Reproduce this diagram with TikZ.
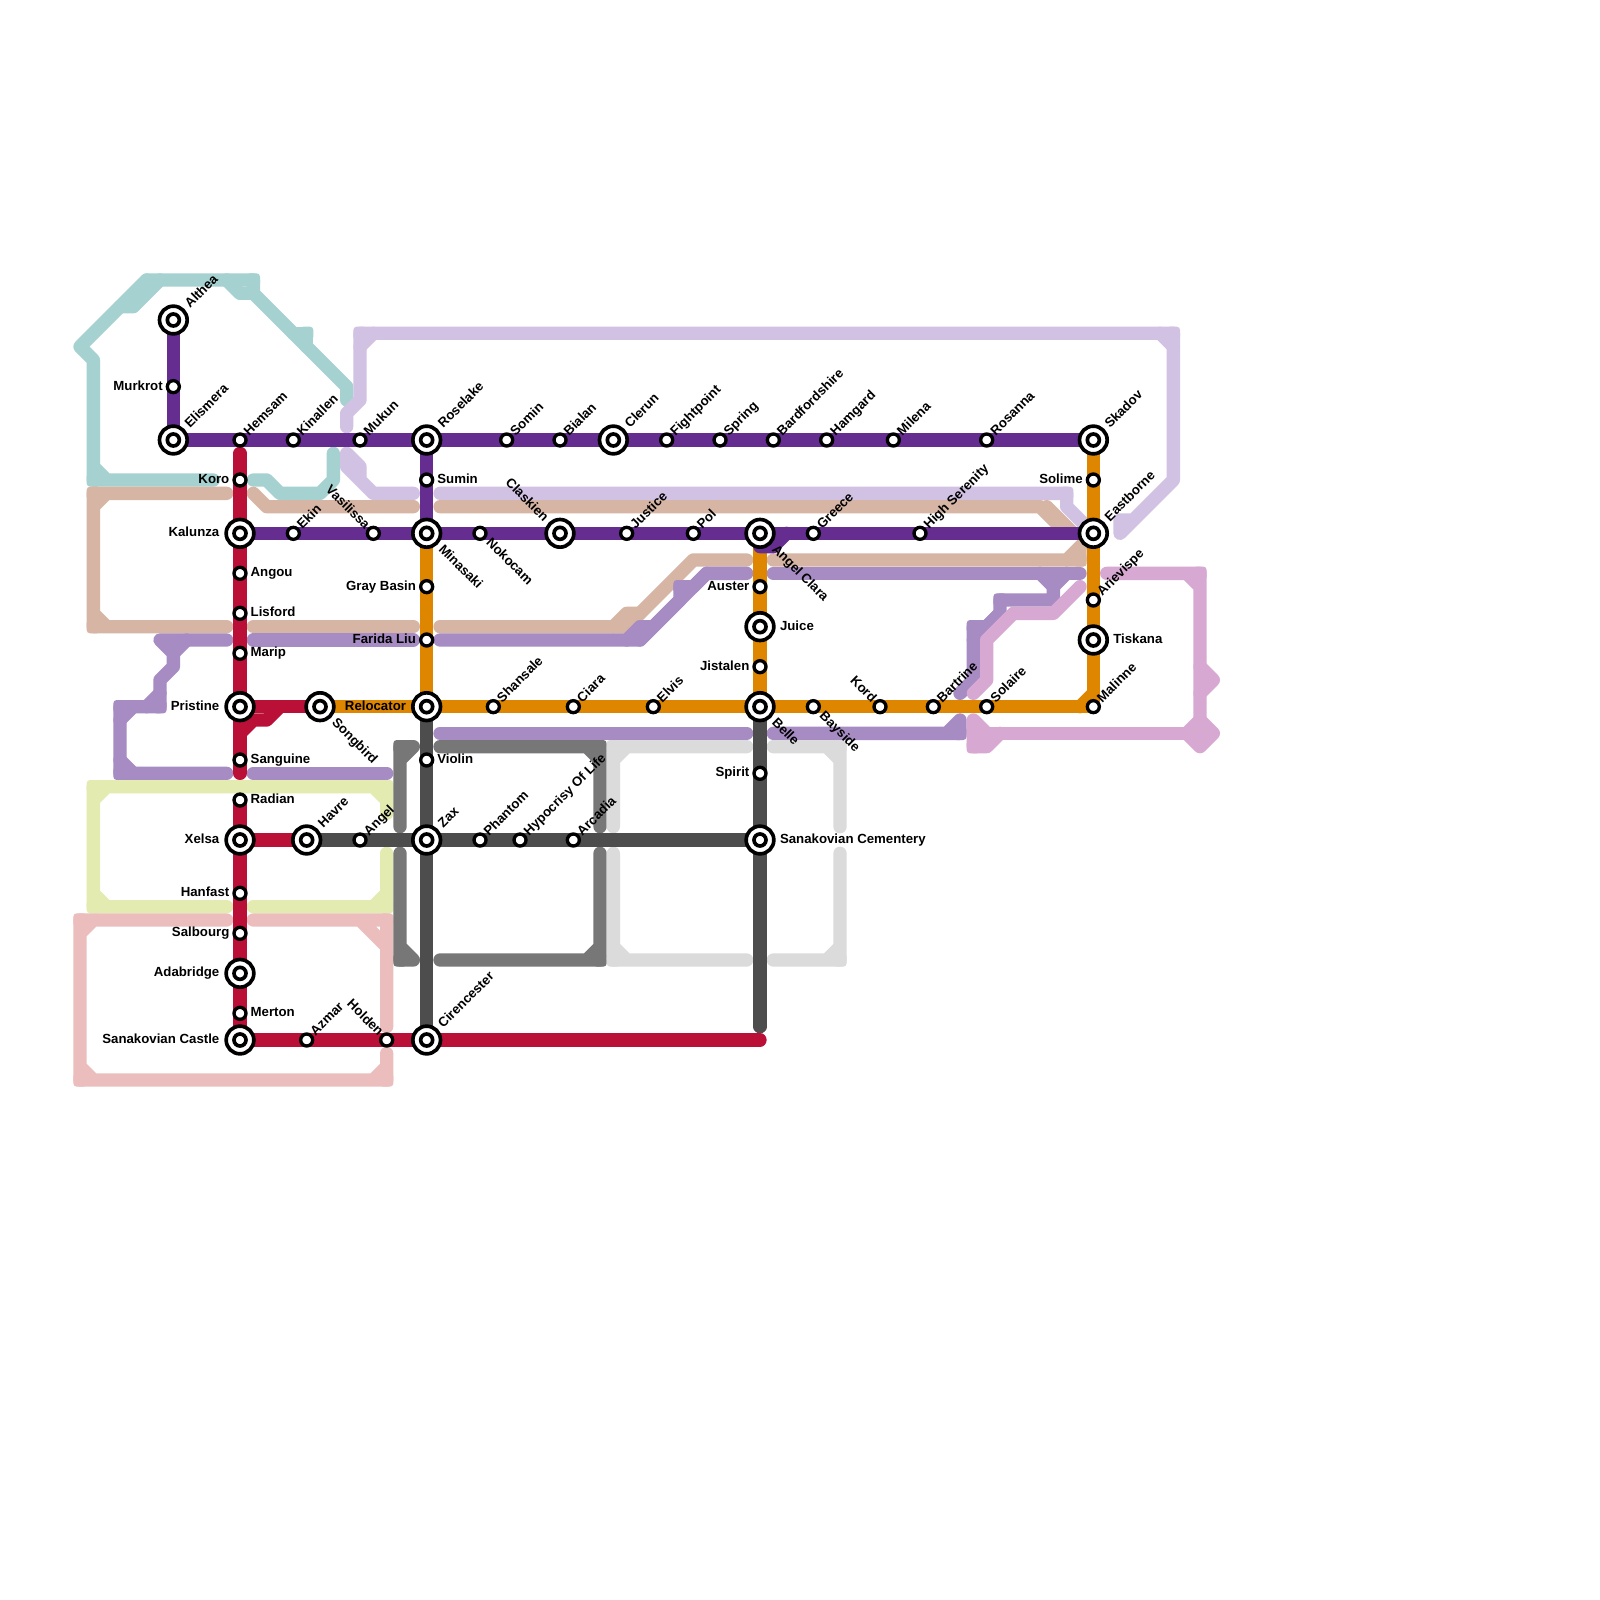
\documentclass[tikz,border=0pt]{standalone}
\usepackage{fontspec}
\setmainfont{Liberation Sans}
\definecolor{cTeal}{HTML}{A5D1D0}
\definecolor{cLav}{HTML}{D1C2E3}
\definecolor{cTan}{HTML}{D7B5A4}
\definecolor{cAme}{HTML}{A78BC3}
\definecolor{cPur}{HTML}{662D91}
\definecolor{cRed}{HTML}{BA1037}
\definecolor{cOra}{HTML}{DF8600}
\definecolor{cLim}{HTML}{E3EBB1}
\definecolor{cRos}{HTML}{EBBDBD}
\definecolor{cOrc}{HTML}{D7A9D2}
\definecolor{cGrM}{HTML}{777777}
\definecolor{cGrD}{HTML}{4D4D4D}
\definecolor{cGrL}{HTML}{DBDBDB}
\pgfdeclarelayer{lines}
\pgfsetlayers{lines,main}
\tikzset{
  L/.style={line width=0.2cm,line cap=round,line join=round},
  stopdot/.style={circle,draw=black,fill=white,inner sep=0pt,outer sep=0pt,minimum size=0.18cm,line width=0.05cm},
  hubring/.style={circle,draw=black,fill=white,inner sep=0pt,outer sep=0pt,minimum size=0.415cm,line width=0.055cm},
  hubcore/.style={circle,draw=black,fill=white,inner sep=0pt,outer sep=0pt,minimum size=0.18cm,line width=0.055cm},
  lbl/.style={font=\fontsize{5.65pt}{6.8pt}\bfseries\selectfont,inner sep=0pt,outer sep=0pt,text=black},
  lR/.style={lbl,anchor=base west},
  lL/.style={lbl,anchor=base east},
  lNE/.style={lbl,anchor=base west,rotate=45},
  lSE/.style={lbl,anchor=base west,rotate=-45},
  lNW/.style={lbl,anchor=base east,rotate=-45},
}
% square corner of a line: keeps the outer corner nearly sharp
\newcommand{\sqcorners}[2]{\foreach \cx/\cy in {#2}{\fill[#1,rounded corners=0.05cm] (\cx-.5,\cy-.5) rectangle (\cx+.5,\cy+.5);}}
\begin{document}
\begin{tikzpicture}[x=0.2cm,y=-0.2cm]
\begin{pgfonlayer}{lines}
\fill[white] (0,0) rectangle (120,120);
\end{pgfonlayer}
\useasboundingbox (0,0) rectangle (120,120);

% stations
\foreach \n/\x/\y in {Murkrot/13/29,Hemsam/18/33,Kinallen/22/33,Mukun/27/33,Somin/38/33,Bialan/42/33,Fightpoint/50/33,Spring/54/33,Bardfordshire/58/33,Hamgard/62/33,Milena/67/33,Rosanna/74/33,Sumin/32/36,Koro/18/36,Solime/82/36,Angou/18/43,Lisford/18/46,Marip/18/49,GrayBasin/32/44,FaridaLiu/32/48,Ekin/22/40,Vasilissa/28/40,Nokocam/36/40,Justice/47/40,Pol/52/40,Greece/61/40,HighSerenity/69/40,Auster/57/44,Jistalen/57/50,Arievispe/82/45,Shansale/37/53,Ciara/43/53,Elvis/49/53,Bayside/61/53,Kord/66/53,Bartrine/70/53,Solaire/74/53,Malinne/82/53,Sanguine/18/57,Violin/32/57,Spirit/57/58,Radian/18/60,Angel/27/63,Phantom/36/63,Hypocrisy/39/63,Arcadia/43/63,Hanfast/18/67,Salbourg/18/70,Merton/18/76,Azmar/23/78,Holden/29/78}
  {\node[stopdot] (\n) at (\x,\y) {};}
\foreach \n/\x/\y in {Althea/13/24,Elismera/13/33,Roselake/32/33,Clerun/46/33,Skadov/82/33,Kalunza/18/40,Minasaki/32/40,Claskien/42/40,AngelClara/57/40,Eastborne/82/40,Juice/57/47,Tiskana/82/48,Pristine/18/53,Songbird/24/53,Relocator/32/53,Belle/57/53,Xelsa/18/63,Havre/23/63,Zax/32/63,SanCem/57/63,Adabridge/18/73,SanCastle/18/78,Cirencester/32/78}
  {\node[hubring] (\n) at (\x,\y) {};\node[hubcore] (\n-core) at (\x,\y) {};}

% labels
\foreach \n/\t in {Hemsam/Hemsam,Kinallen/Kinallen,Mukun/Mukun,Somin/Somin,Bialan/Bialan,Fightpoint/Fightpoint,Spring/Spring,Bardfordshire/Bardfordshire,Hamgard/Hamgard,Milena/Milena,Rosanna/Rosanna,Ekin/Ekin,Justice/Justice,Pol/Pol,Greece/Greece,HighSerenity/High Serenity,Arievispe/Arievispe,Shansale/Shansale,Ciara/Ciara,Elvis/Elvis,Bartrine/Bartrine,Solaire/Solaire,Malinne/Malinne,Angel/Angel,Phantom/Phantom,Hypocrisy/Hypocrisy Of Life,Arcadia/Arcadia,Azmar/Azmar}
  {\node[lNE] (t\n) at ([shift={(.68,-.27)}]\n.center) {\t};}
\foreach \n/\t in {Althea/Althea,Elismera/Elismera,Roselake/Roselake,Clerun/Clerun,Skadov/Skadov,Eastborne/Eastborne,Havre/Havre,Zax/Zax,Cirencester/Cirencester}
  {\node[lNE] (t\n) at ([shift={(1.25,-.85)}]\n.center) {\t};}
\foreach \n/\t in {Nokocam/Nokocam,Bayside/Bayside}
  {\node[lSE] (t\n) at ([shift={(.42,.75)}]\n.center) {\t};}
\foreach \n/\t in {Minasaki/Minasaki,Songbird/Songbird,Belle/Belle,AngelClara/Angel Clara}
  {\node[lSE] (t\n) at ([shift={(.85,1.25)}]\n.center) {\t};}
\foreach \n/\t in {Vasilissa/Vasilissa,Kord/Kord,Holden/Holden}
  {\node[lNW] (t\n) at ([shift={(-.65,-.25)}]\n.center) {\t};}
\node[lNW] (tClaskien) at ([shift={(-1.25,-.85)}]Claskien.center) {Claskien};
\foreach \n/\t in {Sumin/Sumin,Angou/Angou,Lisford/Lisford,Marip/Marip,Sanguine/Sanguine,Radian/Radian,Merton/Merton,Violin/Violin}
  {\node[lR] (t\n) at ([shift={(.8,.26)}]\n.center) {\t};}
\foreach \n/\t in {Juice/Juice,Tiskana/Tiskana,SanCem/Sanakovian Cementery}
  {\node[lR] (t\n) at ([shift={(1.5,.26)}]\n.center) {\t};}
\foreach \n/\t in {Murkrot/Murkrot,Koro/Koro,Solime/Solime,GrayBasin/Gray Basin,FaridaLiu/Farida Liu,Auster/Auster,Jistalen/Jistalen,Spirit/Spirit,Hanfast/Hanfast,Salbourg/Salbourg}
  {\node[lL] (t\n) at ([shift={(-.8,.26)}]\n.center) {\t};}
\foreach \n/\t in {Kalunza/Kalunza,Pristine/Pristine,Relocator/Relocator,Xelsa/Xelsa,Adabridge/Adabridge,SanCastle/Sanakovian Castle}
  {\node[lL] (t\n) at ([shift={(-1.55,.26)}]\n.center) {\t};}

% free line ends
\coordinate (redTop) at (18,34);
\coordinate (redLow) at (18,58);
\coordinate (redEnd) at (57,78);
\coordinate (darkEnd) at (57,77);

\begin{pgfonlayer}{lines}
% teal
\draw[L,cTeal] (11,21)--(6,26)--(7,27)--(7,36)--(16,36) (7,35)--(8,36);
\draw[L,cTeal] (9,23)--(10,23)--(12,21);
\draw[L,cTeal] (11,21)--(19,21)--(19,22)--(26,29)--(26,30);
\draw[L,cTeal] (22,25)--(23,25)--(23,26);
\draw[L,cTeal] (17,21)--(18,22)--(19,22);
\draw[L,cTeal] (19,36)--(20,36)--(21,37)--(24,37)--(25,36)--(25,34);
\sqcorners{cTeal}{7/36,19/21,23/25}
% lavender
\draw[L,cLav] (26,32)--(26,31)--(27,30)--(27,25)--(88,25)--(88,36)--(84,40)--(84,39)--(85,39);
\draw[L,cLav] (27,26)--(28,25) (87,25)--(88,26);
\draw[L,cLav] (26,34)--(26,35)--(28,37)--(31,37) (26,34)--(27,35)--(27,36)--(28,37);
\draw[L,cLav] (33,37)--(80,37)--(80,38)--(82,40);
\sqcorners{cLav}{27/25,88/25,80/37}
% tan
\draw[L,cTan] (17,37)--(7,37)--(7,47)--(17,47) (7,38)--(8,37) (7,46)--(8,47);
\draw[L,cTan] (19,37)--(20,38)--(31,38);
\draw[L,cTan] (33,38)--(78,38)--(80,40) (78.5,38)--(80.5,40);
\draw[L,cTan] (19,47)--(31,47);
\draw[L,cTan] (33,47)--(47,47)--(52,42)--(56,42);
\draw[L,cTan] (46,47)--(47,46)--(48,46);
\draw[L,cTan] (58,42)--(81,42)--(81,41) (80,42)--(82,40);
\sqcorners{cTan}{7/37,7/47,81/42}
% amethyst
\draw[L,cAme] (17,48)--(12,48)--(13,49)--(13,50)--(12,51)--(12,53)--(9,53)--(9,58)--(17,58);
\draw[L,cAme] (13,49)--(14,48) (11,53)--(12,52) (9,54)--(10,53) (9,57)--(10,58);
\draw[L,cAme] (19,48)--(31,48);
\draw[L,cAme] (19,58)--(29,58);
\draw[L,cAme] (33,48)--(48,48)--(51,45)--(51,44)--(52,44)--(53,43)--(56,43);
\draw[L,cAme] (48,48)--(53,43) (47,48)--(48,47)--(49,47);
\draw[L,cAme] (33,55)--(56,55);
\draw[L,cAme] (58,43)--(81,43);
\draw[L,cAme] (78,43)--(79,44)--(79,45)--(75,45)--(75,46)--(74,47)--(73,47)--(73,51)--(72,52);
\draw[L,cAme] (80,43)--(79,44) (75,46)--(73,48);
\draw[L,cAme] (58,55)--(72,55)--(72,54) (71,55)--(72,54);
\sqcorners{cAme}{9/53,9/58,12/53,51/44,75/45,73/47,72/55}
% orchid
\draw[L,cOrc] (83,43)--(90,43)--(90,55) (89,43)--(90,44);
\draw[L,cOrc] (90,50)--(91,51)--(90,52);
\draw[L,cOrc] (90,54)--(91,55)--(90,56)--(89,55)--(90,54);
\draw[L,cOrc] (89,55)--(73,55);
\draw[L,cOrc] (73,54)--(73,56)--(74,56)--(75,55) (73,54)--(74,55);
\draw[L,cOrc] (81,44)--(79,46)--(76,46)--(74,48)--(74,51)--(73,52);
\sqcorners{cOrc}{90/43,73/56}
% lime
\draw[L,cLim] (17,68)--(7,68)--(7,59)--(29,59)--(29,61) (7,60)--(8,59) (7,67)--(8,68) (28,59)--(29,60);
\draw[L,cLim] (29,64)--(29,68)--(19,68) (29,67)--(28,68);
\sqcorners{cLim}{7/59,7/68,29/59,29/68}
% rose
\draw[L,cRos] (17,69)--(6,69)--(6,81)--(29,81)--(29,79) (6,70)--(7,69) (6,80)--(7,81) (29,80)--(28,81);
\draw[L,cRos] (19,69)--(29,69)--(29,77) (27,69)--(29,71);
\sqcorners{cRos}{6/69,6/81,29/81,29/69}
% mid gray
\draw[L,cGrM] (33,56)--(45,56)--(45,62) (44,56)--(45,57);
\draw[L,cGrM] (45,64)--(45,72)--(33,72) (45,71)--(44,72);
\draw[L,cGrM] (31,56)--(30,56)--(30,62) (30,57)--(31,56);
\draw[L,cGrM] (30,64)--(30,72)--(31,72) (30,71)--(31,72);
\sqcorners{cGrM}{45/56,45/72,30/56,30/72}
% light gray
\draw[L,cGrL] (46,62)--(46,56)--(56,56) (46,57)--(47,56);
\draw[L,cGrL] (46,64)--(46,72)--(56,72) (46,71)--(47,72);
\draw[L,cGrL] (58,56)--(63,56)--(63,62) (62,56)--(63,57);
\draw[L,cGrL] (63,64)--(63,72)--(58,72) (63,71)--(62,72);
\sqcorners{cGrL}{46/56,46/72,63/56,63/72}
% dark gray
\draw[L,cGrD] (Relocator.center)--(Violin.center)--(Zax.center)--(Cirencester.center);
\draw[L,cGrD] (Havre.center)--(Angel.center)--(Zax.center)--(Phantom.center)--(Hypocrisy.center)--(Arcadia.center)--(SanCem.center);
\draw[L,cGrD] (Belle.center)--(Spirit.center)--(SanCem.center)--(darkEnd);
% orange
\draw[L,cOra] (Minasaki.center)--(GrayBasin.center)--(FaridaLiu.center)--(Relocator.center);
\draw[L,cOra] (AngelClara.center)--(Auster.center)--(Juice.center)--(Jistalen.center)--(Belle.center);
\draw[L,cOra] (Skadov.center)--(Solime.center)--(Eastborne.center)--(Arievispe.center)--(Tiskana.center)--(Malinne.center)--(Solaire.center)--(Bartrine.center)--(Kord.center)--(Bayside.center)--(Belle.center)--(Elvis.center)--(Ciara.center)--(Shansale.center)--(Relocator.center)--(Songbird.center);
\draw[L,cOra] (81,53)--(82,52);
% purple
\draw[L,cPur] (Althea.center)--(Murkrot.center)--(Elismera.center)--(Hemsam.center)--(Kinallen.center)--(Mukun.center)--(Roselake.center)--(Somin.center)--(Bialan.center)--(Clerun.center)--(Fightpoint.center)--(Spring.center)--(Bardfordshire.center)--(Hamgard.center)--(Milena.center)--(Rosanna.center)--(Skadov.center);
\draw[L,cPur] (Roselake.center)--(Sumin.center)--(Minasaki.center);
\draw[L,cPur] (Kalunza.center)--(Ekin.center)--(Vasilissa.center)--(Minasaki.center)--(Nokocam.center)--(Claskien.center)--(Justice.center)--(Pol.center)--(AngelClara.center)--(Greece.center)--(HighSerenity.center)--(Eastborne.center);
\draw[L,cPur] (57,41)--(58,41)--(59,40);
% red
\draw[L,cRed] (redTop)--(Koro.center)--(Kalunza.center)--(Angou.center)--(Lisford.center)--(Marip.center)--(Pristine.center)--(Sanguine.center)--(redLow);
\draw[L,cRed] (Pristine.center)--(Songbird.center);
\draw[L,cRed] (18,55)--(19,54)--(20,54)--(21,53);
\draw[L,cRed] (Radian.center)--(Xelsa.center)--(Hanfast.center)--(Salbourg.center)--(Adabridge.center)--(Merton.center)--(SanCastle.center)--(Azmar.center)--(Holden.center)--(Cirencester.center)--(redEnd);
\draw[L,cRed] (Xelsa.center)--(Havre.center);
\end{pgfonlayer}
\end{tikzpicture}
\end{document}
